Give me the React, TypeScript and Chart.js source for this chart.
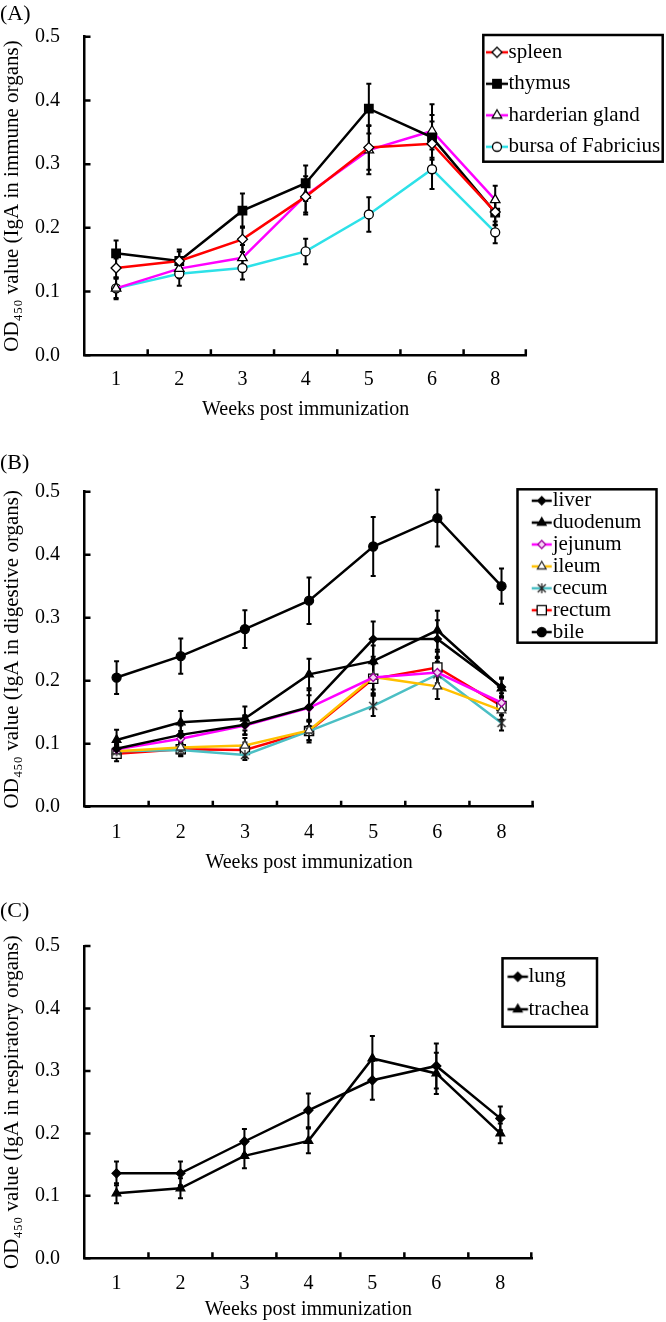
import React, { useEffect, useRef } from 'react';
import { Chart, registerables } from 'chart.js';
import { drawPoint } from 'chart.js/helpers';

Chart.register(...registerables);

const FONT = '"Liberation Serif", "Times New Roman", serif';
const LEGEND_FS = 21;

// ---------- shared axis data ----------
const weeks = ['1', '2', '3', '4', '5', '6', '8'];
const yMin = 0;
const yMax = 0.5;
const yStep = 0.1;
const xTitle = 'Weeks post immunization';

// ---------- Panel A: immune organs ----------
const labelsA = ['spleen', 'thymus', 'harderian gland', 'bursa of Fabricius'];
const spleen = [0.137, 0.148, 0.182, 0.249, 0.326, 0.332, 0.225];
const spleenErr = [0.015, 0.015, 0.02, 0.025, 0.035, 0.035, 0.02];
const thymus = [0.16, 0.148, 0.227, 0.27, 0.387, 0.342, 0.224];
const thymusErr = [0.02, 0.018, 0.027, 0.028, 0.039, 0.035, 0.02];
const harderian = [0.105, 0.136, 0.153, 0.251, 0.322, 0.352, 0.244];
const harderianErr = [0.015, 0.015, 0.02, 0.03, 0.038, 0.042, 0.022];
const bursa = [0.105, 0.128, 0.137, 0.163, 0.221, 0.292, 0.193];
const bursaErr = [0.017, 0.019, 0.018, 0.02, 0.027, 0.031, 0.017];

// ---------- Panel B: digestive organs ----------
const labelsB = ['liver', 'duodenum', 'jejunum', 'ileum', 'cecum', 'rectum', 'bile'];
const liver = [0.092, 0.114, 0.13, 0.158, 0.266, 0.266, 0.19];
const liverErr = [0.012, 0.015, 0.015, 0.03, 0.028, 0.03, 0.015];
const duodenum = [0.106, 0.134, 0.14, 0.21, 0.231, 0.28, 0.188];
const duodenumErr = [0.016, 0.018, 0.019, 0.025, 0.025, 0.031, 0.015];
const jejunum = [0.091, 0.108, 0.129, 0.157, 0.205, 0.213, 0.165];
const jejunumErr = [0.01, 0.012, 0.015, 0.02, 0.025, 0.025, 0.015];
const ileum = [0.088, 0.094, 0.097, 0.121, 0.206, 0.191, 0.153];
const ileumErr = [0.01, 0.01, 0.012, 0.015, 0.02, 0.02, 0.015];
const cecum = [0.088, 0.09, 0.082, 0.12, 0.16, 0.21, 0.133];
const cecumErr = [0.01, 0.01, 0.008, 0.015, 0.016, 0.02, 0.012];
const rectum = [0.084, 0.091, 0.09, 0.12, 0.203, 0.221, 0.16];
const rectumErr = [0.012, 0.01, 0.012, 0.018, 0.025, 0.025, 0.015];
const bile = [0.205, 0.239, 0.282, 0.327, 0.413, 0.458, 0.35];
const bileErr = [0.026, 0.028, 0.03, 0.037, 0.047, 0.045, 0.028];

// ---------- Panel C: respiratory organs ----------
const labelsC = ['lung', 'trachea'];
const lung = [0.136, 0.136, 0.187, 0.237, 0.285, 0.308, 0.224];
const lungErr = [0.019, 0.019, 0.02, 0.027, 0.031, 0.036, 0.019];
const trachea = [0.104, 0.112, 0.164, 0.188, 0.32, 0.296, 0.2];
const tracheaErr = [0.016, 0.016, 0.02, 0.02, 0.036, 0.033, 0.016];

type Series = {
  label: string;
  data: number[];
  err: number[];
  color: string;
  style: string;
  radius: number;
  bg: string;
  border: string;
};

type LegendCfg = { sx: number; imgW: number; gap: number; cy0: number; pad: number; box: number[] };

type PanelCfg = {
  height: number;
  tag: string;
  yTitle: string;
  series: Series[];
  titleTop: number;
  titleBottom: number;
  yWidth: number;
  xHeight: number;
  padRight: number;
  xTickPad: number;
  xTitleBottom: number;
  legend: LegendCfg;
};

const mk = (label: string, data: number[], err: number[], color: string, style: string, radius: number, bg: string, border: string): Series =>
  ({ label, data, err, color, style, radius, bg, border });

const panels: PanelCfg[] = [
  {
    height: 440,
    tag: '(A)',
    yTitle: 'OD\u2084\u2085\u2080 value (IgA in immune organs)',
    series: [
      mk(labelsA[0], spleen, spleenErr, '#FF0000', 'rectRot', 5, '#ffffff', '#000000'),
      mk(labelsA[1], thymus, thymusErr, '#000000', 'rect', 6, '#000000', '#000000'),
      mk(labelsA[2], harderian, harderianErr, '#FF00FF', 'triangle', 5.5, '#ffffff', '#000000'),
      mk(labelsA[3], bursa, bursaErr, '#2DE1E8', 'circle', 4.5, '#ffffff', '#000000'),
    ],
    titleTop: 0.8,
    titleBottom: 9.5,
    yWidth: 84.5,
    xHeight: 84.7,
    padRight: 139.2,
    xTickPad: 12.7,
    xTitleBottom: 18,
    legend: { sx: 486, imgW: 22, gap: 0.5, cy0: 52.3, pad: 10.5, box: [483.3, 35, 179.4, 126.7] },
  },
  {
    height: 440,
    tag: '(B)',
    yTitle: 'OD\u2084\u2085\u2080 value (IgA in digestive organs)',
    series: [
      mk(labelsB[0], liver, liverErr, '#000000', 'rectRot', 4, '#000000', '#000000'),
      mk(labelsB[1], duodenum, duodenumErr, '#000000', 'triangle', 5, '#000000', '#000000'),
      mk(labelsB[2], jejunum, jejunumErr, '#FF00FF', 'rectRot', 4, '#F4D4F4', '#A000A0'),
      mk(labelsB[3], ileum, ileumErr, '#FFC000', 'triangle', 5, '#ffffff', '#333333'),
      mk(labelsB[4], cecum, cecumErr, '#4BBFC4', 'asterisk', 5, '#000000', '#333333'),
      mk(labelsB[5], rectum, rectumErr, '#FF0000', 'rect', 6.5, '#ffffff', '#000000'),
      mk(labelsB[6], bile, bileErr, '#000000', 'circle', 4.5, '#000000', '#000000'),
    ],
    titleTop: 9.8,
    titleBottom: 15.5,
    yWidth: 84.5,
    xHeight: 73.3,
    padRight: 132.4,
    xTickPad: 14,
    xTitleBottom: 5,
    legend: { sx: 531.7, imgW: 20, gap: 1, cy0: 60.7, pad: 0.9, box: [517.5, 49.3, 139, 153.4] },
  },
  {
    height: 442,
    tag: '(C)',
    yTitle: 'OD\u2084\u2085\u2080 value (IgA in respiratory organs)',
    series: [
      mk(labelsC[0], lung, lungErr, '#000000', 'rectRot', 4.5, '#000000', '#000000'),
      mk(labelsC[1], trachea, tracheaErr, '#000000', 'triangle', 5, '#000000', '#000000'),
    ],
    titleTop: 18.5,
    titleBottom: 21.1,
    yWidth: 84.5,
    xHeight: 63.7,
    padRight: 133.7,
    xTickPad: 13.2,
    xTitleBottom: 0,
    legend: { sx: 507.6, imgW: 20.4, gap: 0.5, cy0: 96.7, pad: 11.6, box: [502.5, 78.3, 94.5, 68.4] },
  },
];

function makeAsterisk(): HTMLCanvasElement {
  const c = document.createElement('canvas');
  c.width = 12;
  c.height = 12;
  const ctx = c.getContext('2d')!;
  ctx.strokeStyle = '#222';
  ctx.lineWidth = 1.3;
  ctx.beginPath();
  ctx.moveTo(6, 1);
  ctx.lineTo(6, 11);
  ctx.moveTo(2, 2);
  ctx.lineTo(10, 10);
  ctx.moveTo(10, 2);
  ctx.lineTo(2, 10);
  ctx.stroke();
  return c;
}

// legend box width used by Chart.js between sample start and text start
const legendBoxW = (lg: LegendCfg) => lg.imgW + lg.gap - LEGEND_FS / 2;

function legendImage(s: Series, lg: LegendCfg, star: HTMLCanvasElement): HTMLCanvasElement {
  const bw = legendBoxW(lg);
  const W = Math.ceil(2 * lg.imgW - bw) + 2;
  const o = W / 2 - bw / 2; // sample start inside the image
  const h = 16;
  const c = document.createElement('canvas');
  c.width = W;
  c.height = h;
  const ctx = c.getContext('2d')!;
  ctx.strokeStyle = s.color;
  ctx.lineWidth = 2.5;
  ctx.beginPath();
  ctx.moveTo(o, h / 2);
  ctx.lineTo(o + lg.imgW, h / 2);
  ctx.stroke();
  const mx = o + lg.imgW / 2;
  if (s.style === 'asterisk') {
    ctx.drawImage(star, mx - star.width / 2, h / 2 - star.height / 2);
  } else {
    ctx.fillStyle = s.bg;
    ctx.strokeStyle = s.border;
    ctx.lineWidth = 1.3;
    drawPoint(ctx, { pointStyle: s.style as any, radius: s.radius, rotation: 0, borderWidth: 1.3 } as any, mx, h / 2);
  }
  return c;
}

const errorBarPlugin = {
  id: 'errorBars',
  beforeDatasetsDraw(chart: any) {
    const { ctx, scales } = chart;
    const x = scales.x;
    const y = scales.y;
    ctx.save();
    ctx.strokeStyle = '#000';
    ctx.lineWidth = 2;
    chart.data.datasets.forEach((ds: any) => {
      const errs: number[] = ds.errors;
      if (!errs) return;
      ds.data.forEach((v: number, j: number) => {
        const px = x.getPixelForValue(j);
        const t = y.getPixelForValue(v + errs[j]);
        const b = y.getPixelForValue(v - errs[j]);
        ctx.beginPath();
        ctx.moveTo(px, t);
        ctx.lineTo(px, b);
        ctx.moveTo(px - 2.5, t);
        ctx.lineTo(px + 2.5, t);
        ctx.moveTo(px - 2.5, b);
        ctx.lineTo(px + 2.5, b);
        ctx.stroke();
      });
    });
    ctx.restore();
  },
};

const innerTicksPlugin = {
  id: 'innerTicks',
  afterDraw(chart: any) {
    const { ctx, scales, chartArea: a } = chart;
    const x = scales.x;
    const y = scales.y;
    ctx.save();
    ctx.strokeStyle = '#000';
    ctx.lineWidth = 2.5;
    ctx.beginPath();
    y.ticks.forEach((t: any) => {
      const py = y.getPixelForValue(t.value);
      ctx.moveTo(a.left, py);
      ctx.lineTo(a.left + 6, py);
    });
    const n = x.ticks.length;
    for (let k = 1; k <= n; k++) {
      const px = k < n ? (x.getPixelForTick(k - 1) + x.getPixelForTick(k)) / 2 : a.right - 1;
      ctx.moveTo(px, a.bottom);
      ctx.lineTo(px, a.bottom - 6);
    }
    ctx.stroke();
    ctx.restore();
  },
};

const legendBoxPlugin = {
  id: 'legendBox',
  afterLayout(chart: any, _args: any, opts: any) {
    const lg = chart.legend;
    if (!lg) return;
    lg.left = opts.sx - opts.pad;
    lg.right = lg.left + lg.width + 60;
    lg.top = opts.cy0 - opts.pad - LEGEND_FS / 2;
    lg.bottom = lg.top + 1000;
  },
  afterDraw(chart: any, _args: any, opts: any) {
    const ctx = chart.ctx;
    const [bx, by, bw, bh] = opts.box;
    ctx.save();
    ctx.strokeStyle = '#000';
    ctx.lineWidth = 2.5;
    ctx.strokeRect(bx, by, bw, bh);
    ctx.restore();
  },
};

function Panel({ cfg }: { cfg: PanelCfg }) {
  const ref = useRef<HTMLCanvasElement>(null);
  useEffect(() => {
    if (!ref.current) return;
    const star = makeAsterisk();
    const styleOf = (s: Series): any => (s.style === 'asterisk' ? star : s.style);
    const imgs = cfg.series.map((s) => legendImage(s, cfg.legend, star));
    const datasets = cfg.series.map((s) => ({
      label: s.label,
      data: s.data,
      errors: s.err,
      borderColor: s.color,
      backgroundColor: s.color,
      borderWidth: 2.5,
      pointStyle: styleOf(s),
      pointRadius: s.radius,
      pointHoverRadius: s.radius,
      pointBackgroundColor: s.bg,
      pointBorderColor: s.border,
      pointBorderWidth: 1.3,
      tension: 0,
      fill: false,
    }));
    const chart = new Chart(ref.current, {
      type: 'line',
      data: { labels: weeks, datasets: datasets as any },
      options: {
        responsive: false,
        maintainAspectRatio: false,
        animation: false,
        events: [],
        layout: { padding: { left: 0, right: cfg.padRight, top: 0, bottom: 0 } },
        plugins: {
          title: {
            display: true,
            text: cfg.tag,
            align: 'start',
            color: '#000',
            font: { family: FONT, size: 22, weight: 'normal' },
            padding: { top: cfg.titleTop, bottom: cfg.titleBottom },
          },
          legend: {
            display: true,
            position: 'chartArea' as any,
            align: 'start',
            labels: {
              usePointStyle: true,
              pointStyleWidth: legendBoxW(cfg.legend),
              padding: cfg.legend.pad,
              color: '#000',
              font: { family: FONT, size: LEGEND_FS },
              generateLabels: (ch: any) =>
                ch.data.datasets.map((ds: any, i: number) => ({
                  text: ds.label,
                  pointStyle: imgs[i],
                  fillStyle: ds.borderColor,
                  strokeStyle: ds.borderColor,
                  lineWidth: 0,
                  hidden: false,
                  datasetIndex: i,
                  fontColor: '#000',
                })),
            },
          },
          tooltip: { enabled: false },
          legendBox: cfg.legend,
        } as any,
        scales: {
          x: {
            type: 'category',
            offset: true,
            grid: { display: false, drawTicks: false, offset: true },
            border: { display: true, color: '#000', width: 2.5 },
            ticks: {
              color: '#000',
              font: { family: FONT, size: 20 },
              padding: cfg.xTickPad,
              maxRotation: 0,
              autoSkip: false,
            },
            title: {
              display: true,
              text: xTitle,
              color: '#000',
              font: { family: FONT, size: 20 },
              padding: { top: 0, bottom: cfg.xTitleBottom },
            },
            afterFit: (s: any) => {
              s.height = cfg.xHeight;
            },
          },
          y: {
            min: yMin,
            max: yMax,
            grid: { display: false, drawTicks: false },
            border: { display: true, color: '#000', width: 2.5 },
            ticks: {
              stepSize: yStep,
              color: '#000',
              font: { family: FONT, size: 20 },
              padding: 24.5,
              callback: (v: any) => Number(v).toFixed(1),
            },
            title: {
              display: true,
              text: cfg.yTitle,
              color: '#000',
              font: { family: FONT, size: 21 },
              padding: { top: 0, bottom: 0 },
            },
            afterFit: (s: any) => {
              s.width = cfg.yWidth;
            },
          },
        },
      },
      plugins: [errorBarPlugin, innerTicksPlugin, legendBoxPlugin],
    });
    return () => chart.destroy();
  }, [cfg]);
  return (
    <canvas
      ref={ref}
      width={666}
      height={cfg.height}
      style={{ display: 'block', width: 666, height: cfg.height }}
    />
  );
}

export default function App() {
  return (
    <div style={{ position: 'absolute', left: 0, top: 0, width: 666, background: '#fff' }}>
      {panels.map((p) => (
        <Panel key={p.tag} cfg={p} />
      ))}
    </div>
  );
}
